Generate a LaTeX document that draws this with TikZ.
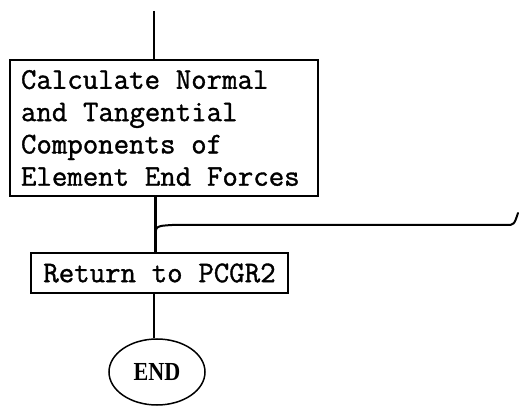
\documentclass[tikz,border=0pt]{standalone}
\usepackage{fontspec}
\newfontfamily\endfont{Liberation Serif}
\newfontfamily\typew{Latin Modern Mono}[FakeBold=1.2]
\newcommand\ws{\hspace*{0.525em}}
\usetikzlibrary{shapes.geometric}
\tikzset{
  box/.style={draw, line width=1.3pt, rectangle, inner sep=0pt,
    font=\fontsize{30}{32.3}\selectfont\typew},
  flow/.style={line width=1.4pt},
  thick flow/.style={line width=3pt},
  curveline/.style={line width=2pt, line cap=round},
  term/.style={draw, ellipse, line width=1.5pt, inner sep=0pt,
    minimum width=96pt, minimum height=66pt,
    font=\fontsize{26}{28}\selectfont\endfont\bfseries}
}
\begin{document}
\begin{tikzpicture}[x=1pt,y=-1pt]
\useasboundingbox (0,0) rectangle (520,406);
\node[box, minimum width=308pt, minimum height=136pt, text width=286pt, align=left] (calc) at (164,128)
  {Calculate\ws Normal\\and\ws Tangential\\Components\ws of\\Element\ws End\ws Forces};
\node[box, minimum width=257pt, minimum height=40pt] (ret) at (159.5,273) {Return\ws to\ws PCGR2};
\node[term] (end) at (157,372) {\scalebox{0.85}[1]{END}};
\coordinate (top) at (154,11);
\coordinate (jn) at (155.5,238);
\coordinate (ce) at (518,213);
\draw[flow] (top) -- (top |- calc.north);
\draw[thick flow] (jn |- calc.south) -- (jn |- ret.north);
\draw[curveline] (jn) .. controls (155.5,226) .. (172,225) -- (506,225) .. controls (514,225) .. (ce);
\draw[flow] (154,293) -- (154,293 |- end.north);
\end{tikzpicture}
\end{document}
